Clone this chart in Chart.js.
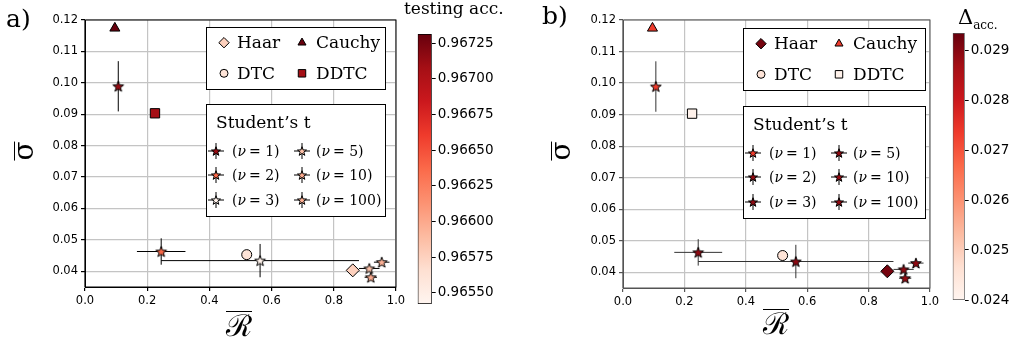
<!DOCTYPE html>
<html>
<head>
<meta charset="utf-8">
<script src="https://cdn.jsdelivr.net/npm/chart.js@4.4.1/dist/chart.umd.min.js"></script>
<style>
    body { margin: 0; background: #fff; width: 1022px; height: 349px; overflow: hidden; position: relative; font-family: "DejaVu Serif", serif; }
    canvas { position: absolute; top: 0; }
    .lbl { position: absolute; color: #000; white-space: nowrap; line-height: 1; }
    .ylab { transform: translate(-50%, -50%) rotate(-90deg); font-size: 28px; }
    .ylab span { display: inline-block; line-height: 17px; border-top: 1.5px solid #000; }
    .xlab { transform: translate(-50%, 0); font-size: 30px; }
    .xlab span { display: inline-block; line-height: 26px; padding-top: 1px; border-top: 1.5px solid #000; }
</style>
</head>
<body>
<canvas id="chartA" width="410" height="349" style="left:0"></canvas>
<canvas id="cbarA" width="110" height="349" style="left:405px"></canvas>
<canvas id="chartB" width="420" height="349" style="left:525px"></canvas>
<canvas id="cbarB" width="82" height="349" style="left:940px"></canvas>

<div class="lbl" style="left:6px;top:6px;font-size:25px">a)</div>
<div class="lbl" style="left:542px;top:3px;font-size:25px">b)</div>
<div class="lbl ylab" style="left:24px;top:151px"><span>σ</span></div>
<div class="lbl ylab" style="left:561px;top:151px"><span>σ</span></div>
<div class="lbl xlab" style="left:239px;top:311px"><span>ℛ</span></div>
<div class="lbl xlab" style="left:776px;top:309px"><span>ℛ</span></div>
<div class="lbl" style="left:404px;top:0px;font-size:17px">testing acc.</div>
<div class="lbl" style="left:958px;top:7px"><span style="font-size:21px">Δ</span><span style="font-size:12px;position:relative;top:5px">acc.</span></div>

<script>
// Values
const methodNames = ['Haar', 'Cauchy', 'DTC', 'DDTC'];
const methodR = [0.861, 0.096, 0.520, 0.225];
const methodSigma = [0.0403, 0.1174, 0.0453, 0.0903];

const nuValues = [1, 2, 3, 5, 10, 100];
const studentR = [0.107, 0.245, 0.563, 0.914, 0.919, 0.954];
const studentSigma = [0.0989, 0.0463, 0.0434, 0.0409, 0.0381, 0.0429];
const studentRErr = [0.004, 0.078, 0.318, 0.033, 0.020, 0.025];
const studentSigmaErr = [0.0080, 0.0042, 0.0053, 0.0008, 0.0008, 0.0008];

// colour values: a) testing accuracy, b) Delta acc.
const accMethods = [0.96576, 0.96731, 0.96561, 0.96708];
const accStudent = [0.96713, 0.96637, 0.96546, 0.96586, 0.96599, 0.96595];
const deltaMethods = [0.02918, 0.02734, 0.02453, 0.02411];
const deltaStudent = [0.02734, 0.02890, 0.02895, 0.02890, 0.02885, 0.02890];

const xTicks = [0.0, 0.2, 0.4, 0.6, 0.8, 1.0];
const yTicks = [0.04, 0.05, 0.06, 0.07, 0.08, 0.09, 0.10, 0.11, 0.12];
const accRange = [0.965421, 0.967315];
const accTicks = [0.9655, 0.96575, 0.966, 0.96625, 0.9665, 0.96675, 0.967, 0.96725];
const deltaRange = [0.024, 0.02934];
const deltaTicks = [0.024, 0.025, 0.026, 0.027, 0.028, 0.029];

// matplotlib "Reds"
const REDS = ['#fff5f0', '#fee0d2', '#fcbba1', '#fc9272', '#fb6a4a', '#ef3b2c', '#cb181d', '#a50f15', '#67000d'];

function hexRgb(h) {
    return [1, 3, 5].map(i => parseInt(h.substr(i, 2), 16));
}

function reds(t) {
    t = Math.min(1, Math.max(0, t));
    const p = t * 8, i = Math.min(7, Math.floor(p)), f = p - i;
    const a = hexRgb(REDS[i]), b = hexRgb(REDS[i + 1]);
    return 'rgb(' + a.map((v, k) => Math.round(v + (b[k] - v) * f)).join(',') + ')';
}

function colorFor(v, range) {
    return reds((v - range[0]) / (range[1] - range[0]));
}

// filled star marker with black edge
function starImage(fill, scale) {
    scale = scale || 1;
    const s = Math.ceil(14 * scale), c = document.createElement('canvas');
    c.width = c.height = s;
    const g = c.getContext('2d');
    const R = 5.6 * scale, r = 2.3 * scale;
    g.beginPath();
    for (let k = 0; k < 10; k++) {
        const rad = k % 2 ? r : R;
        const a = -Math.PI / 2 + k * Math.PI / 5;
        g.lineTo(s / 2 + rad * Math.cos(a), s / 2 + 0.5 + rad * Math.sin(a));
    }
    g.closePath();
    g.fillStyle = fill;
    g.fill();
    g.lineWidth = 1;
    g.strokeStyle = '#000';
    g.stroke();
    return c;
}

const methodStyles = ['rectRot', 'triangle', 'circle', 'rect'];
const methodRadius = [6.5, 5.8, 5, 6.6];

// error bars, drawn under the markers
const errorBars = {
    id: 'errorBars',
    beforeDatasetsDraw(chart, args, o) {
        const { ctx, scales: { x, y } } = chart;
        ctx.save();
        ctx.strokeStyle = o.color;
        ctx.lineWidth = 1;
        studentR.forEach((r, i) => {
            const px = x.getPixelForValue(r), py = y.getPixelForValue(studentSigma[i]);
            ctx.beginPath();
            ctx.moveTo(x.getPixelForValue(r - studentRErr[i]), py);
            ctx.lineTo(x.getPixelForValue(r + studentRErr[i]), py);
            ctx.moveTo(px, y.getPixelForValue(studentSigma[i] - studentSigmaErr[i]));
            ctx.lineTo(px, y.getPixelForValue(studentSigma[i] + studentSigmaErr[i]));
            ctx.stroke();
        });
        // axes frame
        const a = chart.chartArea;
        ctx.strokeStyle = o.frame;
        ctx.strokeRect(a.left, a.top, a.right - a.left, a.bottom - a.top);
        ctx.restore();
    }
};

function drawNuLabel(ctx, x, y, nu) {
    ctx.font = '14px "DejaVu Serif"';
    ctx.fillText('(', x, y);
    x += ctx.measureText('(').width;
    ctx.font = 'italic 14px "DejaVu Serif"';
    ctx.fillText('ν', x, y);
    x += ctx.measureText('ν').width + 3;
    ctx.font = '14px "DejaVu Serif"';
    ctx.fillText('= ' + nu + ')', x, y);
}

// the two legend boxes
const boxLegend = {
    id: 'boxLegend',
    afterDraw(chart, args, o) {
        const ctx = chart.ctx;
        ctx.save();
        ctx.textBaseline = 'middle';
        ctx.fillStyle = '#000';
        const b1 = o.box1, b2 = o.box2;
        [b1, b2].forEach(b => {
            ctx.fillStyle = '#fff';
            ctx.fillRect(b.x, b.y, b.w, b.h);
            ctx.strokeStyle = '#000';
            ctx.lineWidth = 1;
            ctx.strokeRect(b.x + 0.5, b.y + 0.5, b.w, b.h);
        });
        // methods
        const cells = [[0, 0], [0, 1], [1, 0], [1, 1]];
        methodNames.forEach((name, i) => {
            const [row, col] = cells[i];
            const cy = b1.y + (row ? 46.3 : 15.7);
            const mx = b1.x + (col ? 96 : 18), tx = b1.x + (col ? 110 : 31);
            ctx.fillStyle = o.methodColors[i];
            ctx.strokeStyle = '#000';
            ctx.lineWidth = 1;
            Chart.helpers.drawPoint(ctx, { pointStyle: methodStyles[i], radius: methodRadius[i] * 0.8, borderWidth: 1, rotation: 0 }, mx, cy);
            ctx.fillStyle = '#000';
            ctx.font = '17px "DejaVu Serif"';
            ctx.fillText(name, tx, cy + 1);
        });
        // Student's t
        ctx.fillStyle = '#000';
        ctx.font = '17px "DejaVu Serif"';
        ctx.fillText('Student\u2019s t', b2.x + 10, b2.y + 19.5);
        const rows = [47, 71, 96];
        nuValues.forEach((nu, i) => {
            const col = i < 3 ? 0 : 1, row = i % 3;
            const cy = b2.y + rows[row];
            const mx = b2.x + (col ? 96 : 10), tx = b2.x + (col ? 110 : 26);
            ctx.strokeStyle = '#000';
            ctx.lineWidth = 1;
            ctx.beginPath();
            ctx.moveTo(mx - 8, cy); ctx.lineTo(mx + 8, cy);
            ctx.moveTo(mx, cy - 8); ctx.lineTo(mx, cy + 8);
            ctx.stroke();
            const img = o.legendStars[i];
            ctx.drawImage(img, mx - img.width / 2, cy - img.height / 2);
            ctx.fillStyle = '#000';
            drawNuLabel(ctx, tx, cy + 1, nu);
        });
        ctx.restore();
    }
};

function buildPanel(id, p) {
    const methodColors = p.methodVals.map(v => colorFor(v, p.range));
    const studentColors = p.studentVals.map(v => colorFor(v, p.range));
    const tickFont = { family: 'DejaVu Sans', size: 11.5 };
    new Chart(document.getElementById(id), {
        type: 'scatter',
        data: {
            datasets: [
                {
                    label: 'methods',
                    data: methodR.map((r, i) => ({ x: r, y: methodSigma[i] })),
                    pointStyle: methodStyles,
                    pointRadius: methodRadius,
                    backgroundColor: methodColors,
                    borderColor: '#000',
                    borderWidth: 1
                },
                {
                    label: 'student',
                    data: studentR.map((r, i) => ({ x: r, y: studentSigma[i] })),
                    pointStyle: studentColors.map(c => starImage(c)),
                    pointRadius: 6
                }
            ]
        },
        options: {
            responsive: false,
            animation: false,
            events: [],
            layout: { padding: { left: 0, top: 20, right: p.padRight, bottom: 0 } },
            plugins: {
                legend: { display: false },
                tooltip: { enabled: false },
                errorBars: { color: p.errColor, frame: p.frame },
                boxLegend: {
                    box1: p.box1, box2: p.box2,
                    methodColors: methodColors,
                    legendStars: studentColors.map(c => starImage(c, 0.85))
                }
            },
            scales: {
                x: {
                    type: 'linear', min: 0, max: 1,
                    afterBuildTicks: s => { s.ticks = xTicks.map(v => ({ value: v })); },
                    afterFit: s => { s.height = p.xAxisH; },
                    ticks: { callback: v => v.toFixed(1), font: tickFont, color: '#000', padding: 3, autoSkip: false, maxRotation: 0 },
                    grid: { color: '#c4c4c4', lineWidth: 1.2, tickColor: p.frame, tickLength: 4 },
                    border: { color: p.frame, width: 1 }
                },
                y: {
                    type: 'linear', min: 0.035, max: 0.12,
                    afterBuildTicks: s => { s.ticks = yTicks.map(v => ({ value: v })); },
                    afterFit: s => { s.width = p.yAxisW; },
                    ticks: { callback: v => v.toFixed(2), font: tickFont, color: '#000', padding: 3, autoSkip: false },
                    grid: { color: '#c4c4c4', lineWidth: 1.2, tickColor: p.frame, tickLength: 4 },
                    border: { color: p.frame, width: 1 }
                }
            }
        },
        plugins: [errorBars, boxLegend]
    });
}

function buildColorbar(id, range, ticks, digits, p) {
    new Chart(document.getElementById(id), {
        type: 'bar',
        data: {
            labels: [''],
            datasets: [{
                data: [range],
                backgroundColor: c => {
                    const area = c.chart.chartArea;
                    if (!area) return null;
                    const g = c.chart.ctx.createLinearGradient(0, area.bottom, 0, area.top);
                    REDS.forEach((col, i) => g.addColorStop(i / 8, col));
                    return g;
                },
                borderColor: p.edge,
                borderWidth: 1,
                borderSkipped: false,
                barPercentage: 1,
                categoryPercentage: 1
            }]
        },
        options: {
            responsive: false,
            animation: false,
            events: [],
            layout: { padding: { left: p.left, top: p.top, bottom: p.bottom, right: 0 } },
            plugins: { legend: { display: false }, tooltip: { enabled: false } },
            scales: {
                x: { display: false },
                y: {
                    position: 'right', min: range[0], max: range[1],
                    afterBuildTicks: s => { s.ticks = ticks.map(v => ({ value: v })); },
                    afterFit: s => { s.width = p.axisW; },
                    ticks: { callback: v => v.toFixed(digits), font: { family: 'DejaVu Sans', size: 13.5 }, color: '#000', padding: 2, autoSkip: false },
                    grid: { drawOnChartArea: false, color: '#000', tickLength: 4 },
                    border: { display: false }
                }
            }
        }
    });
}

buildPanel('chartA', {
    methodVals: accMethods, studentVals: accStudent, range: accRange,
    padRight: 14, yAxisW: 85, xAxisH: 62, frame: '#000', errColor: '#000',
    box1: { x: 206, y: 27, w: 179, h: 62 },
    box2: { x: 206, y: 104, w: 179, h: 112 }
});
buildPanel('chartB', {
    methodVals: deltaMethods, studentVals: deltaStudent, range: deltaRange,
    padRight: 15, yAxisW: 98, xAxisH: 61, frame: '#555', errColor: '#333',
    box1: { x: 218, y: 28, w: 182, h: 62 },
    box2: { x: 218, y: 106, w: 182, h: 112 }
});
buildColorbar('cbarA', accRange, accTicks, 5, { left: 12.7, top: 34, bottom: 45, axisW: 83.3, edge: '#000' });
buildColorbar('cbarB', deltaRange, deltaTicks, 3, { left: 12.7, top: 33, bottom: 49, axisW: 57.3, edge: '#555' });
</script>
</body>
</html>
